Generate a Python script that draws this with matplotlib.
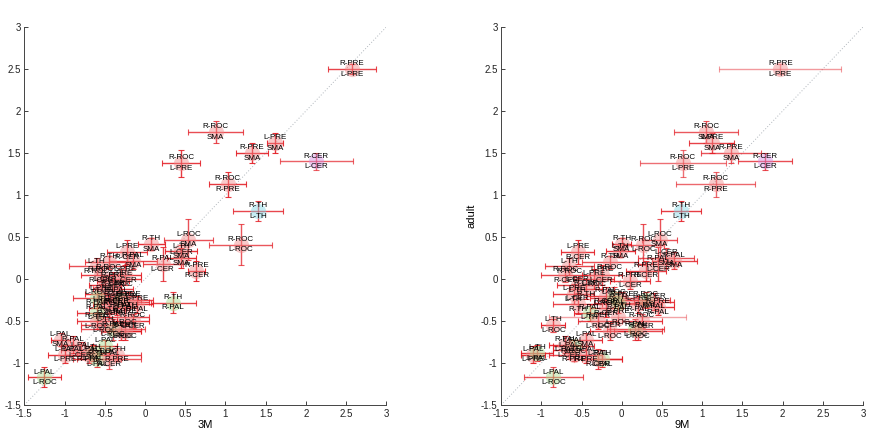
import matplotlib
matplotlib.use('Agg')
from matplotlib import pyplot as plt
import numpy as np

plt.rcParams['font.family'] = ['Liberation Sans', 'DejaVu Sans']

# connection labels (top / bottom of each point)
top_labels = ['R-PRE', 'R-ROC', 'L-PRE', 'R-PRE', 'R-CER', 'R-ROC', 'R-ROC', 'R-TH', 'R-ROC', 'L-ROC',
              'R-TH', 'L-TH', 'R-PAL', 'L-CER', 'R-PAL', 'R-PRE', 'L-PRE', 'R-TH', 'L-TH', 'R-ROC',
              'L-PRE', 'R-PRE', 'L-CER', 'R-CER', 'L-PRE', 'R-PAL', 'L-ROC', 'R-ROC', 'L-CER', 'R-PRE',
              'L-PRE', 'R-TH', 'L-CER', 'R-PRE', 'L-ROC', 'R-PAL', 'R-CER', 'R-PRE', 'R-ROC', 'R-PAL',
              'L-TH', 'L-CER', 'L-PAL', 'L-PAL', 'R-PAL', 'L-PAL', 'L-PAL', 'L-TH', 'R-TH', 'L-PAL',
              'L-PAL', 'L-TH', 'L-PAL', 'L-PRE', 'R-TH']
bottom_labels = ['L-PRE', 'SMA', 'SMA', 'SMA', 'L-CER', 'L-PRE', 'R-PRE', 'L-TH', 'L-ROC', 'SMA',
                 'SMA', 'SMA', 'L-CER', 'SMA', 'SMA', 'R-CER', 'R-CER', 'R-ROC', 'R-ROC', 'R-CER',
                 'L-CER', 'L-CER', 'L-TH', 'R-TH', 'L-TH', 'R-CER', 'R-PAL', 'R-PAL', 'R-PAL', 'L-TH',
                 'R-PAL', 'R-PAL', 'R-TH', 'R-PAL', 'R-CER', 'L-TH', 'L-ROC', 'L-ROC', 'L-CER', 'L-ROC',
                 'L-ROC', 'L-ROC', 'SMA', 'R-ROC', 'L-PAL', 'L-CER', 'L-PRE', 'L-PAL', 'L-PAL', 'R-CER',
                 'R-PRE', 'R-PRE', 'L-ROC', 'L-ROC', 'L-ROC']

# adult values (shared y)
adult = [2.50, 1.75, 1.62, 1.50, 1.40, 1.38, 1.13, 0.81, 0.41, 0.47,
         0.42, 0.33, 0.18, 0.25, 0.22, 0.10, 0.32, 0.20, 0.15, 0.05,
         0.05, -0.02, -0.07, -0.12, -0.18, -0.20, -0.22, -0.25, -0.27, -0.25,
         -0.30, -0.28, -0.30, -0.33, -0.35, -0.40, -0.50, -0.45, -0.50, -0.60,
         -0.55, -0.62, -0.72, -0.80, -0.78, -0.85, -0.90, -0.88, -0.95, -0.95,
         -0.90, -0.90, -1.17, 0.00, -0.62]
adult_err = [0.06, 0.13, 0.12, 0.12, 0.10, 0.16, 0.15, 0.12, 0.24, 0.24,
             0.07, 0.07, 0.20, 0.12, 0.10, 0.12, 0.14, 0.08, 0.10, 0.08,
             0.12, 0.10, 0.10, 0.12, 0.12, 0.10, 0.12, 0.10, 0.10, 0.10,
             0.10, 0.12, 0.12, 0.10, 0.10, 0.10, 0.10, 0.10, 0.08, 0.12,
             0.08, 0.10, 0.08, 0.08, 0.10, 0.10, 0.10, 0.10, 0.10, 0.12,
             0.10, 0.08, 0.12, 0.12, 0.10]

# 3M values
m3 = [2.57, 0.88, 1.62, 1.33, 2.13, 0.45, 1.03, 1.41, 1.19, 0.54,
      0.08, 0.45, 0.22, 0.45, -0.15, 0.64, -0.22, -0.45, -0.60, -0.55,
      -0.25, -0.40, -0.50, -0.40, -0.55, -0.35, -0.60, -0.30, -0.25, -0.20,
      -0.10, 0.35, -0.45, -0.35, -0.45, -0.60, -0.60, -0.25, -0.15, -0.40,
      -0.50, -0.25, -1.05, -0.50, -0.90, -0.80, -1.00, -0.65, -0.60, -0.45,
      -0.70, -0.35, -1.25, -0.30, -0.30]
m3_err = [0.30, 0.34, 0.10, 0.20, 0.45, 0.24, 0.23, 0.31, 0.39, 0.30,
          0.17, 0.20, 0.25, 0.18, 0.30, 0.10, 0.25, 0.30, 0.35, 0.25,
          0.20, 0.20, 0.20, 0.25, 0.20, 0.20, 0.30, 0.25, 0.30, 0.30,
          0.20, 0.28, 0.20, 0.25, 0.25, 0.25, 0.25, 0.30, 0.20, 0.40,
          0.30, 0.20, 0.12, 0.15, 0.15, 0.25, 0.20, 0.20, 0.30, 0.40,
          0.30, 0.30, 0.20, 0.25, 0.25]

# 9M values
m9 = [1.97, 1.05, 1.12, 1.36, 1.78, 0.76, 1.17, 0.74, 0.27, 0.47,
      0.00, -0.02, 0.45, 0.55, 0.65, 0.30, -0.55, -0.15, -0.65, -0.70,
      -0.25, 0.10, -0.55, -0.45, -0.60, -0.20, -0.10, 0.30, 0.40, 0.00,
      0.20, -0.05, -0.55, 0.45, -0.20, -0.40, -0.30, -0.05, 0.25, 0.17,
      -0.85, -0.15, -0.45, -0.60, -0.70, -0.65, -1.10, -1.05, -0.25, -0.30,
      -0.45, -0.60, -0.85, -0.35, 0.20]
m9_err = [0.76, 0.40, 0.28, 0.37, 0.34, 0.53, 0.49, 0.25, 0.25, 0.22,
          0.12, 0.18, 0.25, 0.35, 0.28, 0.25, 0.20, 0.35, 0.30, 0.30,
          0.25, 0.25, 0.25, 0.20, 0.25, 0.25, 0.30, 0.30, 0.25, 0.30,
          0.30, 0.30, 0.30, 0.20, 0.20, 0.20, 0.25, 0.85, 0.25, 0.35,
          0.15, 0.25, 0.20, 0.25, 0.20, 0.20, 0.15, 0.20, 0.25, 0.30,
          0.20, 0.30, 0.37, 0.25, 0.30]


def dot_colour(a, b):
    ra, rb = a[2:], b[2:]
    if ra == rb == 'TH':
        return '#7fd6e6'
    if ra == rb == 'CER':
        return '#d48be0'
    if 'PAL' in (ra, rb) and ('ROC' in (ra, rb) or 'TH' in (ra, rb)):
        return '#a8dc8c'
    return '#f08a8a'


ticks = [-1.5, -1, -0.5, 0, 0.5, 1, 1.5, 2, 2.5, 3]
tick_text = ['-1.5', '-1', '-0.5', '0', '0.5', '1', '1.5', '2', '2.5', '3']

fig = plt.figure(figsize=(8.7, 4.36), dpi=100)
ax1 = fig.add_axes([0.028, 0.071, 0.416, 0.867])
ax2 = fig.add_axes([0.576, 0.071, 0.416, 0.867])

y = np.array(adult)
ye = np.array(adult_err)

for ax, xv, xe, name in [(ax1, m3, m3_err, '3M'), (ax2, m9, m9_err, '9M')]:
    xv = np.array(xv)
    xe = np.array(xe)
    ax.plot([-1.5, 3], [-1.5, 3], ls=(0, (1, 2)), color='#b0b6bc', lw=0.7, zorder=1)
    for i in range(len(xv)):
        a = float(np.clip(1.05 - 0.8 * max(xe[i], ye[i] * 1.5), 0.4, 0.95))
        ax.errorbar(xv[i], y[i], xerr=xe[i], yerr=ye[i], fmt='none',
                    ecolor='#e31a22', elinewidth=1.0, capsize=2.5, capthick=0.8,
                    alpha=a, zorder=2)
        ax.plot(xv[i], y[i], 'o', ms=11, mec='none',
                color=dot_colour(top_labels[i], bottom_labels[i]), alpha=0.45, zorder=3)
        ax.annotate(top_labels[i], (xv[i], y[i]), xytext=(0, 3.8), textcoords='offset points',
                    ha='center', va='center', fontsize=5.8, zorder=4)
        ax.annotate(bottom_labels[i], (xv[i], y[i]), xytext=(0, -3.8), textcoords='offset points',
                    ha='center', va='center', fontsize=5.8, zorder=4)
    ax.set_xlim(-1.5, 3)
    ax.set_ylim(-1.5, 3)
    ax.set_xticks(ticks)
    ax.set_xticklabels(tick_text)
    ax.set_yticks(ticks)
    ax.set_yticklabels(tick_text)
    ax.tick_params(direction='in', length=3, width=0.6, labelsize=7, pad=2.5, colors='#222222')
    for s in ['top', 'right']:
        ax.spines[s].set_visible(False)
    for s in ['left', 'bottom']:
        ax.spines[s].set_linewidth(0.7)
        ax.spines[s].set_color('#444444')
    ax.set_xlabel(name, fontsize=8, labelpad=1)

ax2.set_ylabel('adult', fontsize=8, labelpad=3)

plt.savefig('out.png', dpi=100)
